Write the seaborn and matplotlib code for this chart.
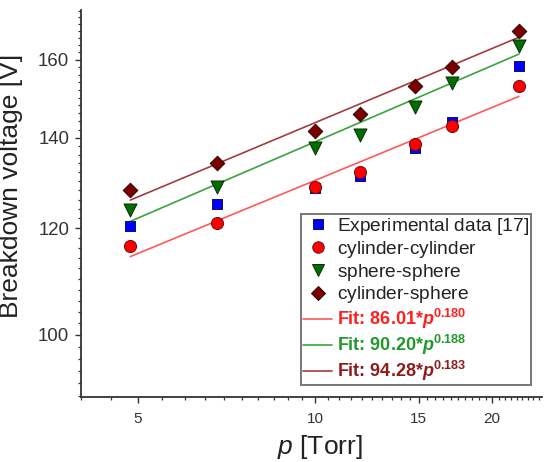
import matplotlib
matplotlib.use("Agg")
import matplotlib.pyplot as plt
from matplotlib.lines import Line2D
from matplotlib.ticker import NullFormatter, FixedLocator
import numpy as np
import pandas as pd
import seaborn as sns

# ---- data ----
pressure = [4.85, 6.8, 10.0, 11.9, 14.8, 17.1, 22.2]
experimental = [120.5, 125.0, 128.4, 131.2, 137.7, 143.9, 158.4]
cyl_cyl = [116.3, 121.0, 128.8, 132.0, 138.6, 142.9, 153.1]
sph_sph = [123.8, 128.7, 137.6, 140.7, 147.7, 153.8, 163.7]
cyl_sph = [128.0, 134.0, 141.7, 145.9, 152.9, 158.0, 168.2]

fit_names = ["cylinder-cylinder", "sphere-sphere", "cylinder-sphere"]
fit_coef = [86.01, 90.20, 94.28]
fit_exp = [0.180, 0.188, 0.183]

x_major = [5, 10, 15, 20]
x_major_labels = ["5", "10", "15", "20"]
y_major = [100, 120, 140, 160]
y_major_labels = ["100", "120", "140", "160"]

sns.set_theme(style="white")
plt.rcParams["font.family"] = ["Liberation Sans", "DejaVu Sans"]
plt.rcParams["mathtext.fontset"] = "custom"
plt.rcParams["mathtext.rm"] = "Liberation Sans"
plt.rcParams["mathtext.it"] = "Liberation Sans:italic"
plt.rcParams["mathtext.bf"] = "Liberation Sans:bold"
plt.rcParams["mathtext.bfit"] = "Liberation Sans:italic:bold"

fig = plt.figure(figsize=(5.44, 4.62), dpi=100)
ax = fig.add_axes([81 / 544, 65 / 462, 461 / 544, 387 / 462])

line_colors = ["#ff5a5a", "#3aa33a", "#a33c3c"]
text_colors = ["#ff1f1f", "#22992a", "#8e1c1c"]

# fit lines
for coef, ex, lc in zip(fit_coef, fit_exp, line_colors):
    xs = [pressure[0], pressure[-1]]
    ys = [coef * x ** ex for x in xs]
    sns.lineplot(x=xs, y=ys, color=lc, lw=1.2, ax=ax, zorder=2)

series = [
    ("Experimental data [17]", experimental, "s", "#0000ff", "#10105a", 62),
    ("cylinder-cylinder", cyl_cyl, "o", "#ff0000", "#6a1010", 76),
    ("sphere-sphere", sph_sph, "v", "#006f00", "#0a2a0a", 88),
    ("cylinder-sphere", cyl_sph, "D", "#7a0000", "#300000", 55),
]
for name, vals, mk, fc, ec, s in series:
    df = pd.DataFrame({"p": pressure, "V": vals})
    sns.scatterplot(data=df, x="p", y="V", marker=mk, s=s, color=fc,
                    edgecolor=ec, linewidth=0.7, ax=ax, zorder=3)

ax.set_xscale("log")
ax.set_yscale("log")
ax.set_xlim(4.0, 24.3)
ax.set_ylim(89.9, 174.2)

ax.xaxis.set_major_locator(FixedLocator(x_major))
ax.set_xticklabels(x_major_labels)
ax.xaxis.set_minor_locator(FixedLocator(np.arange(4.0, 24.3, 0.5)))
ax.xaxis.set_minor_formatter(NullFormatter())
ax.yaxis.set_major_locator(FixedLocator(y_major))
ax.set_yticklabels(y_major_labels)
ax.yaxis.set_minor_locator(FixedLocator(np.arange(90, 175, 2)))
ax.yaxis.set_minor_formatter(NullFormatter())

for side in ["top", "right"]:
    ax.spines[side].set_visible(False)
for side in ["left", "bottom"]:
    ax.spines[side].set_color("#333333")
    ax.spines[side].set_linewidth(1.3)

ax.tick_params(axis="both", which="major", direction="out", length=4.5,
               width=1.0, color="#333333", labelcolor="#333333", left=True, bottom=True)
ax.tick_params(axis="both", which="minor", direction="out", length=2.5,
               width=0.9, color="#333333", left=True, bottom=True)
ax.tick_params(axis="x", which="major", labelsize=11, pad=6)
ax.tick_params(axis="y", which="major", labelsize=13.4, pad=4)

ax.set_xlabel(r"$\mathit{p}$ [Torr]", fontsize=19, color="#222222")
ax.set_ylabel("Breakdown voltage [V]", fontsize=19, color="#222222")
ax.xaxis.set_label_coords(0.518, -0.094)
ax.yaxis.set_label_coords(-0.125, 0.545)

handles = []
labels = []
for name, vals, mk, fc, ec, s in series:
    handles.append(Line2D([], [], linestyle="none", marker=mk, markersize=np.sqrt(s) * 0.95,
                          markerfacecolor=fc, markeredgecolor=ec, markeredgewidth=0.7))
    # invisible superscript strut so every legend row has the same height
    labels.append(name + r"$^{\,}$")
for coef, ex, lc in zip(fit_coef, fit_exp, line_colors):
    handles.append(Line2D([], [], color=lc, lw=1.2))
    labels.append(r"Fit: %.2f*$\mathbfit{p}^{\mathbf{%.3f}}$" % (coef, ex))

leg = ax.legend(handles, labels, loc="lower right", bbox_to_anchor=(0.9765, 0.03),
                fontsize=13.8, frameon=True, fancybox=False, borderpad=0.1,
                handlelength=1.55, handletextpad=0.25, labelspacing=0.1,
                borderaxespad=0)
leg.get_frame().set_edgecolor("#555555")
leg.get_frame().set_linewidth(1.4)
texts = leg.get_texts()
for t in texts[:4]:
    t.set_color("#222222")
for t, c in zip(texts[4:], text_colors):
    t.set_color(c)
    t.set_fontweight("bold")
    t.set_fontsize(13.0)

fig.savefig("out.png", dpi=100)
